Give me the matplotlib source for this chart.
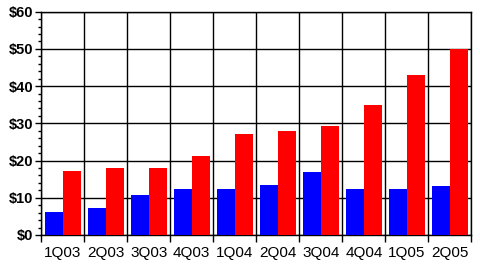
import numpy as np
import matplotlib.pyplot as plt
from matplotlib.ticker import MultipleLocator, FuncFormatter

# ── Data ──────────────────────────────────────────────────────────────────────
quarters = ["1Q03", "2Q03", "3Q03", "4Q03", "1Q04",
            "2Q04", "3Q04", "4Q04", "1Q05", "2Q05"]
blue_vals = [6.2, 7.3, 10.7, 12.4, 12.4, 13.4, 16.9, 12.4, 12.4, 13.2]
red_vals  = [17.1, 18.0, 18.0, 21.2, 27.2, 28.0, 29.3, 34.9, 43.0, 50.0]

plt.rcParams["font.family"] = ["Liberation Sans", "DejaVu Sans"]

fig = plt.figure(figsize=(4.8, 2.75), dpi=100)
fig.patch.set_facecolor("white")
ax = fig.add_axes([0.086, 0.1455, 0.896, 0.812])

x = np.arange(len(quarters))
w = 0.42
ax.bar(x - w / 2, blue_vals, width=w, color="#0000ff", zorder=3)
ax.bar(x + w / 2, red_vals, width=w, color="#ff0000", zorder=3)

ax.set_xlim(-0.5, len(quarters) - 0.5)
ax.set_ylim(0, 60)

# boundaries carry the ticks + vertical grid, centers carry the labels
ax.set_xticks(np.arange(len(quarters) + 1) - 0.5)
ax.set_xticklabels([])
ax.set_xticks(x, minor=True)
ax.set_xticklabels(quarters, minor=True, fontsize=11)
ax.tick_params(axis="x", which="major", length=5, width=1, color="black", direction="out")
ax.tick_params(axis="x", which="minor", length=0, pad=8)

ax.yaxis.set_major_locator(MultipleLocator(10))
ax.yaxis.set_minor_locator(MultipleLocator(2))
ax.yaxis.set_major_formatter(FuncFormatter(lambda v, p: f"${v:.0f}"))
ax.tick_params(axis="y", which="major", length=4, width=1, labelsize=10.5, pad=2)
ax.tick_params(axis="y", which="minor", length=2.5, width=1)
for lbl in ax.get_yticklabels():
    lbl.set_fontweight("bold")

ax.grid(axis="x", which="major", color="black", linewidth=1, zorder=1)
ax.grid(axis="y", which="major", color="black", linewidth=1, zorder=1)
for s in ax.spines.values():
    s.set_color("black")
    s.set_linewidth(1)

plt.savefig("out.png", dpi=100, facecolor="white")
